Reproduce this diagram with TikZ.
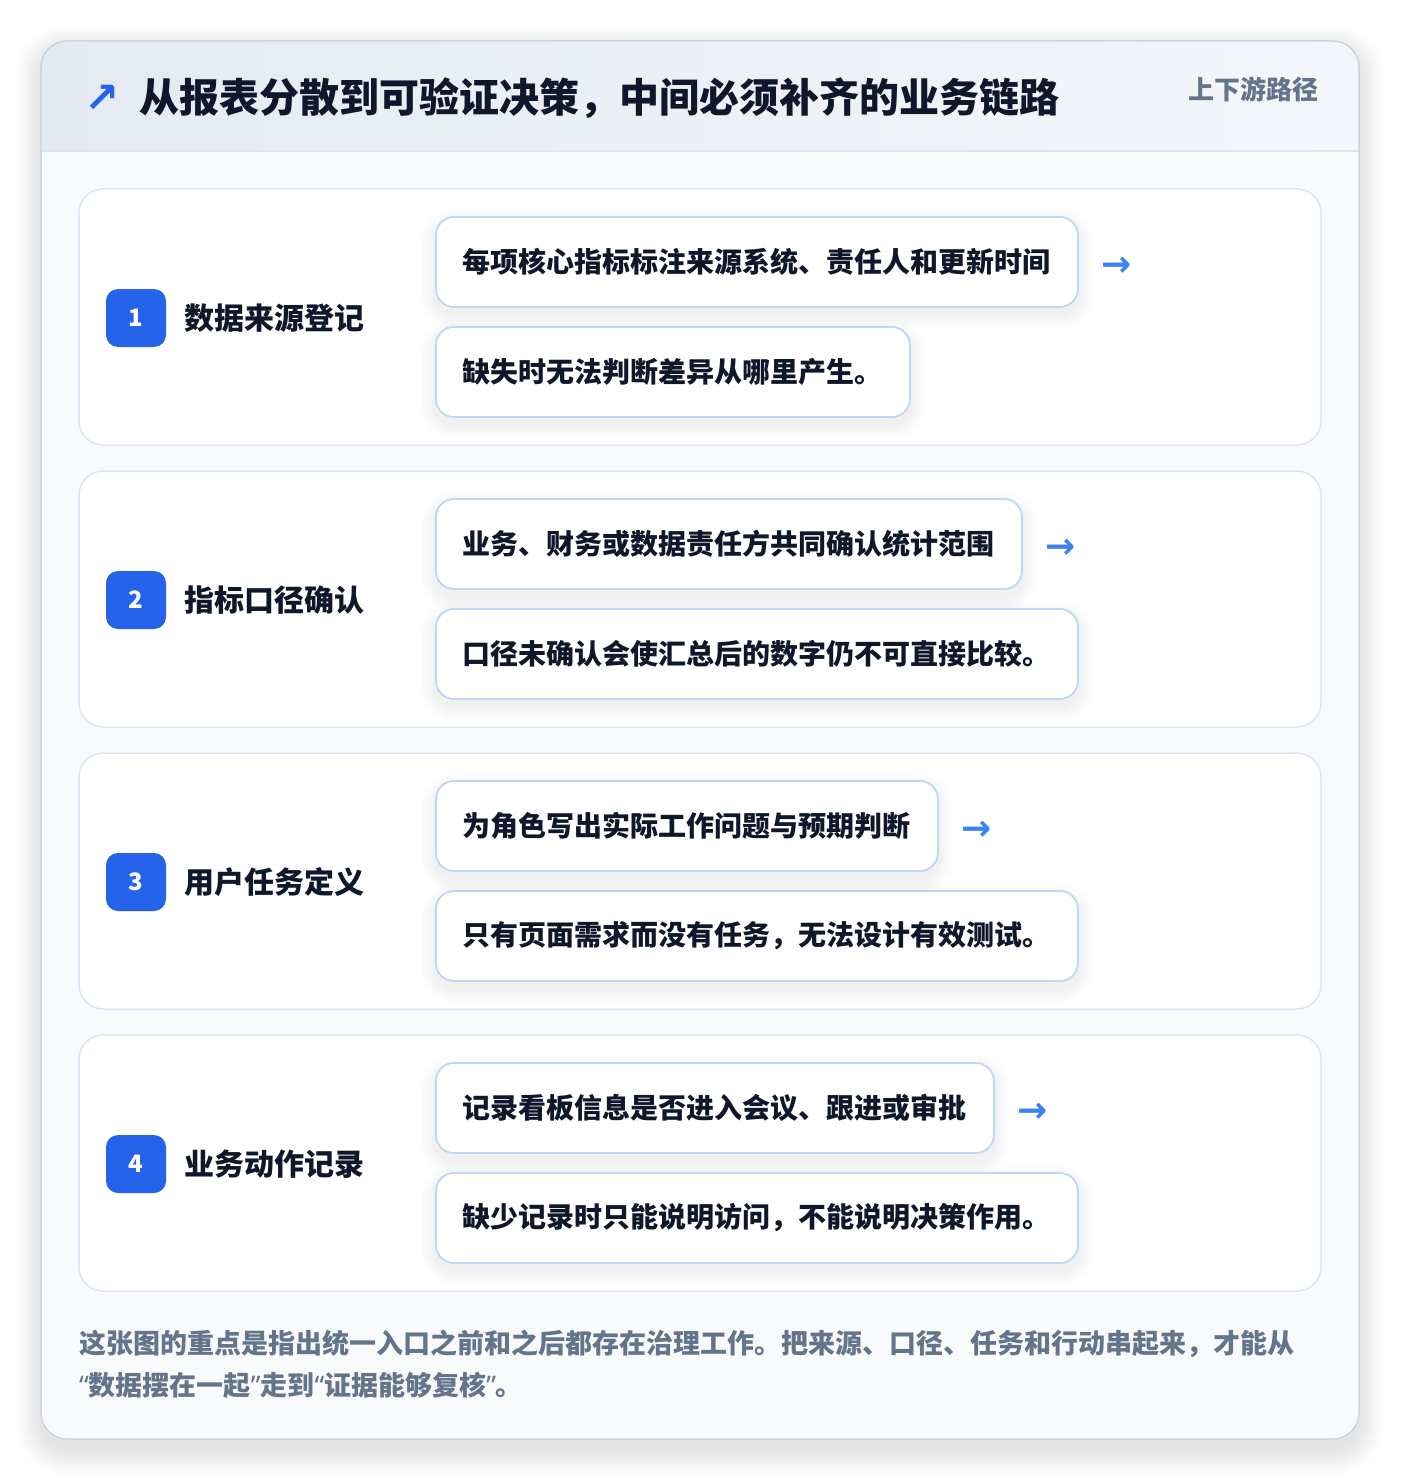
\documentclass[tikz,border=0pt]{standalone}
\usepackage{fontspec}
\setmainfont{Noto Sans CJK SC}
\newfontfamily\arrowfont{DejaVu Sans}
\newfontfamily\quotefont{Noto Sans}
\newcommand\myLQ{{\quotefont\bfseries “}}
\newcommand\myRQ{{\quotefont\bfseries ”}}
\usetikzlibrary{calc}
\definecolor{ink}{HTML}{0F172A}
\definecolor{muted}{HTML}{64748B}
\definecolor{badgeblue}{HTML}{2563EB}
\definecolor{arrblue}{HTML}{3B82F6}
\definecolor{secline}{HTML}{DCE7F5}
\definecolor{boxline}{HTML}{BFD6F4}
\definecolor{cardline}{HTML}{CBD5E1}
\definecolor{cardbody}{HTML}{F8FAFC}
\definecolor{hdrL}{HTML}{E5EAF2}
\definecolor{hdrR}{HTML}{F4F7FB}
\definecolor{hdrline}{HTML}{DBE6F4}
\pgfdeclarelayer{bg}\pgfdeclarelayer{sh}\pgfsetlayers{bg,sh,main}
\newcommand\softsh[1]{%
  \begin{pgfonlayer}{sh}
    \foreach \i in {1,...,14} {
      \pgfmathsetmacro\rr{18+\i}
      \fill[black,opacity=0.0045,rounded corners=\rr pt]
        ($(#1.north west)+(-\i,-\i+7)$) rectangle ($(#1.south east)+(\i,\i+7)$);
    }
  \end{pgfonlayer}}
\begin{document}
\begin{tikzpicture}[x=1pt,y=-1pt,
  sec/.style={draw=secline, line width=1.5pt, fill=white, rounded corners=24pt,
    minimum width=1242pt, minimum height=256pt, inner sep=0pt},
  box/.style={draw=boxline, line width=1.8pt, fill=white, rounded corners=18pt,
    minimum height=90pt, inner xsep=27pt, inner ysep=0pt, anchor=west,
    font=\fontsize{28}{34}\selectfont\bfseries, text=ink},
  badge/.style={fill=badgeblue, rounded corners=12pt, minimum width=60pt,
    minimum height=58pt, inner sep=0pt, text=white,
    font=\fontsize{24}{28}\selectfont\bfseries},
  lab/.style={anchor=west, inner sep=0pt, text=ink,
    font=\fontsize{30}{36}\selectfont\bfseries},
  arr/.style={anchor=west, inner sep=0pt, text=arrblue,
    font=\arrowfont\bfseries\fontsize{36}{36}\selectfont},
]
\useasboundingbox (0,0) rectangle (1400,1482);
\begin{pgfonlayer}{bg}
  \fill[white] (0,0) rectangle (1400,1482);
  \foreach \i in {1,...,26} {
    \pgfmathsetmacro\rr{26+\i}
    \fill[black,opacity=0.0045,rounded corners=\rr pt] (41-\i,51-\i) rectangle (1359+\i,1449+\i);
  }
  \fill[cardbody, rounded corners=26pt] (41,41) rectangle (1359,1439);
  \begin{scope}
    \clip[rounded corners=26pt] (41,41) rectangle (1359,1439);
    \shade[left color=hdrL,right color=hdrR] (41,41) rectangle (1359,151);
  \end{scope}
  \draw[hdrline, line width=1.5pt] (41,151) -- (1359,151);
  \draw[cardline, line width=1.5pt, rounded corners=26pt] (41,41) rectangle (1359,1439);
\end{pgfonlayer}

\node[inner sep=0pt, text=badgeblue, font=\arrowfont\bfseries\fontsize{42}{42}\selectfont] (ticon) at (102,99) {↗};
\node[anchor=west, inner sep=0pt, text=ink, font=\fontsize{40}{48}\selectfont\bfseries] (title) at (139,98) {从报表分散到可验证决策，中间必须补齐的业务链路};
\node[anchor=east, inner sep=0pt, text=muted, font=\fontsize{26}{30}\selectfont\bfseries] (tag) at (1319,89) {上下游路径};

\foreach \n/\lab/\up/\low in {
  1/数据来源登记/每项核心指标标注来源系统、责任人和更新时间/缺失时无法判断差异从哪里产生。,
  2/指标口径确认/业务、财务或数据责任方共同确认统计范围/口径未确认会使汇总后的数字仍不可直接比较。,
  3/用户任务定义/为角色写出实际工作问题与预期判断/只有页面需求而没有任务，无法设计有效测试。,
  4/业务动作记录/记录看板信息是否进入会议、跟进或审批/缺少记录时只能说明访问，不能说明决策作用。}{
  \pgfmathsetmacro\t{189+(\n-1)*282}
  \begin{pgfonlayer}{bg}
    \node[sec] (sec\n) at (700,\t+128) {};
  \end{pgfonlayer}
  \node[badge] (badge\n) at (136,\t+129) {\n};
  \node[lab] (lab\n) at (184,\t+129) {\lab};
  \node[box] (up\n) at (435,\t+73) {\up};
  \node[box] (low\n) at (435,\t+183) {\low};
  \node[arr] (arr\n) at ($(up\n.east)+(22,5)$) {→};
  \softsh{up\n}
  \softsh{low\n}
}

\node[anchor=west, align=left, inner sep=0pt, text=muted,
  font=\fontsize{27}{42}\selectfont\bfseries] (foot) at (79,1364)
  {这张图的重点是指出统一入口之前和之后都存在治理工作。把来源、口径、任务和行动串起来，才能从\\\myLQ 数据摆在一起\myRQ 走到\myLQ 证据能够复核\myRQ 。};
\end{tikzpicture}
\end{document}
